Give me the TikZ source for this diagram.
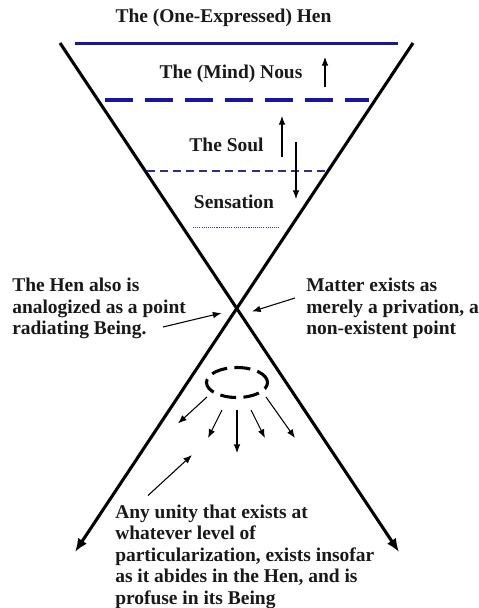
\documentclass[tikz,border=0pt]{standalone}
\usepackage{fontspec}
\setmainfont{Liberation Serif}
\usetikzlibrary{arrows.meta,shapes.geometric}
\definecolor{hblue}{RGB}{22,22,165}
\definecolor{hnavy}{RGB}{45,45,150}
\definecolor{hdot}{RGB}{60,60,170}
\begin{document}
\begin{tikzpicture}[x=0.75pt,y=-0.75pt,
  lbl/.style={font=\bfseries\fontsize{14.6}{16.3}\selectfont, inner sep=0pt, text=black!90},
  blk/.style={font=\bfseries\fontsize{14.6}{16.1}\selectfont, inner sep=0pt, text=black!90, align=left},
  axisline/.style={line width=2.3pt, -{Latex[length=10pt,width=8pt]}},
  ptr/.style={line width=0.8pt, -{Latex[length=6.5pt,width=5pt]}},
  level/.style={line width=2.4pt, hblue},
  lvldash/.style={line width=2.5pt, hblue, dash pattern=on 21pt off 9pt},
  lvlsmall/.style={line width=1.5pt, hnavy, dash pattern=on 6pt off 3.8pt},
  lvldot/.style={line width=0.6pt, hdot, dash pattern=on 0.8pt off 0.8pt},
  halo/.style={draw, ellipse, line width=2.3pt, dash pattern=on 12pt off 5.5pt,
    minimum width=45.75pt, minimum height=22.5pt, inner sep=0pt}
]
\useasboundingbox (0,0) rectangle (479,608);
\fill[white] (0,0) rectangle (479,608);

% the two crossing lines
\coordinate (ltop) at (60,43);
\coordinate (rtop) at (413,43);
\coordinate (lend) at (75,552);
\coordinate (rend) at (399,552);
\draw[axisline] (ltop) -- (rend);
\draw[axisline] (rtop) -- (lend);

% levels
\coordinate (l1a) at (75,43.5);  \coordinate (l1b) at (398,43.5);
\coordinate (l2a) at (105,100);  \coordinate (l2b) at (369,100);
\coordinate (l3a) at (147,170.5);  \coordinate (l3b) at (328,170.5);
\coordinate (l4a) at (193,227);  \coordinate (l4b) at (280,227);
\draw[level] (l1a) -- (l1b);
\draw[lvldash] (l2a) -- (l2b);
\draw[lvlsmall] (l3a) -- (l3b);
\draw[lvldot] (l4a) -- (l4b);

% labels
\node[lbl] (hen) at (223.5,17.5) {The (One-Expressed) Hen};
\node[lbl] (nous) at (231,73.5) {The (Mind) Nous};
\node[lbl] (soul) at (226.5,144.5) {The Soul};
\node[lbl] (sens) at (234,201.5) {Sensation};

% level arrows
\coordinate (na) at (325,87);  \coordinate (nb) at (325,57);
\coordinate (sa) at (282,157); \coordinate (sb) at (282,116);
\coordinate (da) at (296,142); \coordinate (db) at (296,199);
\draw[ptr] (na) -- (nb);
\draw[ptr] (sa) -- (sb);
\draw[ptr] (da) -- (db);

% side texts
\node[lbl, align=left, anchor=north west] (hentxt) at (12,277.5)
  {The Hen also is\\analogized as a point\\radiating Being.};
\node[lbl, align=left, anchor=north west] (mattxt) at (306,277.5)
  {Matter exists as\\merely a privation, a\\non-existent point};
\coordinate (hp) at (163,327); \coordinate (hq) at (221.5,313);
\coordinate (mp) at (295,298); \coordinate (mq) at (252,311.5);
\draw[ptr] (hp) -- (hq);
\draw[ptr] (mp) -- (mq);

% radiating unity
\node[halo] (unity) at (237,382.5) {};
\coordinate (r1a) at (207,397); \coordinate (r1b) at (178,423.5);
\coordinate (r2a) at (222,410); \coordinate (r2b) at (208,438);
\coordinate (r3a) at (237,410); \coordinate (r3b) at (237,453);
\coordinate (r4a) at (251,410); \coordinate (r4b) at (265,438);
\coordinate (r5a) at (266,397); \coordinate (r5b) at (295,438);
\foreach \i in {1,...,5} \draw[ptr] (r\i a) -- (r\i b);

% bottom text
\node[blk, anchor=north west] (unitxt) at (115,504.5)
  {Any unity that exists at\\whatever level of\\particularization, exists insofar\\as it abides in the Hen, and is\\profuse in its Being};
\coordinate (up) at (148,495.5); \coordinate (uq) at (192,455);
\draw[ptr] (up) -- (uq);
\end{tikzpicture}
\end{document}
